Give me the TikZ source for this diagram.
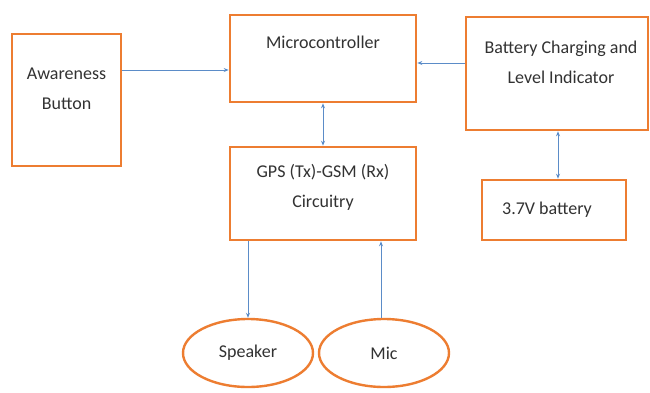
\documentclass[tikz,border=0pt]{standalone}
\usepackage{fontspec}
\setmainfont{Carlito}
\usetikzlibrary{arrows.meta,shapes.geometric}
\definecolor{boxorange}{RGB}{237,125,49}
\definecolor{arrowblue}{RGB}{91,140,200}
\definecolor{txtgray}{RGB}{50,50,50}
\tikzset{
  blk/.style={draw=boxorange, line width=2.6pt, rectangle, inner sep=0pt},
  oval/.style={draw=boxorange, line width=2.4pt, ellipse, inner sep=0pt, minimum width=130pt, minimum height=68pt, text=txtgray, font=\fontsize{18}{30}\selectfont},
  lbl/.style={font=\fontsize{18}{30}\selectfont, text=txtgray, align=center, inner sep=0pt},
  conn/.style={draw=arrowblue, line width=0.9pt, -{Stealth[length=5pt,width=4pt]}},
  bconn/.style={draw=arrowblue, line width=0.9pt, {Stealth[length=5pt,width=4pt]}-{Stealth[length=5pt,width=4pt]}}
}
\begin{document}
\begin{tikzpicture}[x=1pt,y=-1pt]
\useasboundingbox[fill=white] (0,0) rectangle (650,392);
% boxes
\node[blk, minimum width=109pt, minimum height=132pt] (aw) at (66.5,100) {};
\node[blk, minimum width=186pt, minimum height=87pt] (mc) at (323,58.5) {};
\node[blk, minimum width=182pt, minimum height=113pt] (bc) at (557,73.5) {};
\node[blk, minimum width=186pt, minimum height=93pt] (gps) at (323,193.5) {};
\node[blk, minimum width=144pt, minimum height=60pt] (bat) at (554,210) {};
\node[oval] (spk) at (248,353) {Speaker};
\node[oval] (mic) at (384,353) {Mic};
% texts
\node[lbl] (awt) at (66.5,89) {Awareness\\Button};
\node[lbl] (mct) at (323,42) {Microcontroller};
\node[lbl] (bct) at (561,62) {Battery Charging and\\Level Indicator};
\node[lbl] (gpst) at (323,187) {GPS (Tx)-GSM (Rx)\\Circuitry};
\node[lbl] (batt) at (547,210) {3.7V battery};
% connectors
\coordinate (awo) at (aw.east |- 0,70);
\coordinate (mci) at (mc.west |- 0,70);
\draw[conn] (awo) -- (mci);
\coordinate (bco) at (bc.west |- 0,63);
\coordinate (mcr) at (mc.east |- 0,63);
\draw[conn] (bco) -- (mcr);
\draw[bconn] (mc.south) -- (gps.north);
\coordinate (bcb) at (bc.south -| 558,0);
\coordinate (batt0) at (bat.north -| 558,0);
\draw[bconn] (bcb) -- (batt0);
\coordinate (gspk) at (gps.south -| spk.north);
\draw[conn] (gspk) -- (spk.north);
\coordinate (gmic) at (gps.south -| 381,0);
\coordinate (micn) at (mic.north -| 381,0);
\draw[conn] (micn) -- (gmic);
\end{tikzpicture}
\end{document}
